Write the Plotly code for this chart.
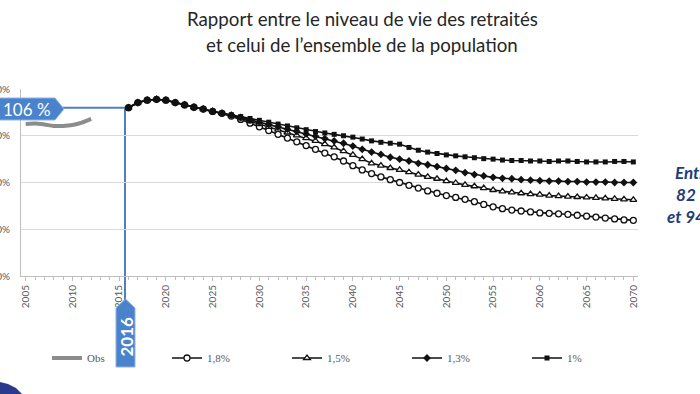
import plotly.graph_objects as go

# ---------------- data ----------------
obs_years = [2005, 2006, 2007, 2008, 2009, 2010, 2011, 2012]
obs_values = [102.5, 102.6, 102.4, 102.1, 102.1, 102.3, 102.8, 103.6]

proj_years = list(range(2016, 2071))

common_start = [106.0, 107.1, 107.6, 107.8, 107.6, 107.1, 106.6, 106.1, 105.7, 105.2, 104.8]

s18_tail = [104.2, 103.5, 102.7, 101.9, 101.1, 100.3, 99.5, 98.7, 97.9, 97.1,
            96.3, 95.5, 94.6, 93.6, 92.7, 91.9, 91.2, 90.6, 90.0, 89.4,
            88.8, 88.2, 87.7, 87.2, 86.8, 86.4, 85.9, 85.3, 84.8, 84.4,
            84.1, 83.9, 83.7, 83.5, 83.4, 83.3, 83.2, 83.0, 82.8, 82.6,
            82.4, 82.2, 82.0, 81.9]
s15_tail = [104.3, 103.7, 103.1, 102.5, 101.9, 101.3, 100.7, 100.1, 99.5, 98.9,
            98.2, 97.5, 96.7, 95.9, 95.0, 94.1, 93.6, 93.1, 92.7, 92.2,
            91.7, 91.2, 90.8, 90.3, 89.9, 89.5, 89.2, 88.8, 88.4, 88.1,
            87.9, 87.7, 87.5, 87.4, 87.2, 87.1, 87.0, 86.9, 86.8, 86.7,
            86.6, 86.5, 86.4, 86.3]
s13_tail = [104.4, 103.9, 103.4, 102.9, 102.4, 101.9, 101.4, 100.9, 100.4, 99.9,
            99.4, 98.9, 98.4, 97.8, 97.1, 96.5, 96.0, 95.4, 95.0, 94.6,
            94.1, 93.8, 93.4, 93.0, 92.6, 92.1, 91.7, 91.4, 91.1, 90.9,
            90.8, 90.6, 90.5, 90.4, 90.3, 90.3, 90.2, 90.2, 90.1, 90.1,
            90.1, 90.0, 90.0, 90.0]
s10_tail = [104.5, 104.1, 103.7, 103.3, 102.9, 102.5, 102.1, 101.7, 101.3, 100.9,
            100.6, 100.3, 100.0, 99.7, 99.3, 98.9, 98.6, 98.4, 98.2, 97.5,
            96.9, 96.5, 96.2, 95.9, 95.7, 95.5, 95.3, 95.1, 95.0, 94.8,
            94.7, 94.7, 94.6, 94.6, 94.5, 94.6, 94.6, 94.5, 94.4, 94.4,
            94.4, 94.5, 94.5, 94.4]

s18 = common_start + s18_tail
s15 = common_start + s15_tail
s13 = common_start + s13_tail
s10 = common_start + s10_tail

series_names = ["Obs", "1,8%", "1,5%", "1,3%", "1%"]
x_tick_years = list(range(2005, 2071, 5))
y_ticks = [70, 80, 90, 100, 110]
y_tick_labels = ["70%", "80%", "90%", "100%", "110%"]

highlight_value = 106

# ---------------- layout helpers ----------------
W, H = 700, 394
ML, MR, MT, MB = 21, 62, 89, 118
PW, PH = W - ML - MR, H - MT - MB


def P(x, y):
    """pixel -> paper coords"""
    return (x - ML) / PW, (H - MB - y) / PH


def path(points):
    s = ""
    for i, (x, y) in enumerate(points):
        px_, py_ = P(x, y)
        s += ("M" if i == 0 else "L") + f"{px_:.5f},{py_:.5f} "
    return s + "Z"


fig = go.Figure()

fig.add_trace(go.Scatter(x=obs_years, y=obs_values, name=series_names[0], mode="lines",
                         line=dict(color="#8c8c8c", width=4, shape="spline")))
fig.add_trace(go.Scatter(x=proj_years, y=s18, name=series_names[1], mode="lines+markers",
                         line=dict(color="#111111", width=1.6),
                         marker=dict(symbol="circle", size=6, color="white",
                                     line=dict(color="#111111", width=1.3))))
fig.add_trace(go.Scatter(x=proj_years, y=s15, name=series_names[2], mode="lines+markers",
                         line=dict(color="#111111", width=1.6),
                         marker=dict(symbol="triangle-up", size=6, color="white",
                                     line=dict(color="#111111", width=1.3))))
fig.add_trace(go.Scatter(x=proj_years, y=s13, name=series_names[3], mode="lines+markers",
                         line=dict(color="#111111", width=1.6),
                         marker=dict(symbol="diamond", size=6, color="#111111")))
fig.add_trace(go.Scatter(x=proj_years, y=s10, name=series_names[4], mode="lines+markers",
                         line=dict(color="#111111", width=1.6),
                         marker=dict(symbol="square", size=5, color="#111111")))

blue = "#4a82cc"
line_blue = "#4f7fbf"

shapes = []
shapes.append(dict(type="line", xref="paper", yref="y",
                   x0=P(62, 0)[0], x1=P(125, 0)[0], y0=highlight_value, y1=highlight_value,
                   line=dict(color=line_blue, width=2), layer="below"))
shapes.append(dict(type="line", xref="paper", yref="paper",
                   x0=P(125, 0)[0], x1=P(125, 0)[0], y0=P(0, 109)[1], y1=P(0, 305)[1],
                   line=dict(color=line_blue, width=2), layer="below"))
shapes.append(dict(type="path", xref="paper", yref="paper",
                   path=path([(-3, 98), (55, 98), (64, 109), (55, 120), (-3, 120)]),
                   fillcolor=blue, line=dict(color="#8db3e6", width=1), layer="above"))
shapes.append(dict(type="path", xref="paper", yref="paper",
                   path=path([(116, 308), (125.5, 299), (135, 308), (135, 367), (116, 367)]),
                   fillcolor=blue, line=dict(color="#8db3e6", width=1), layer="above"))
shapes.append(dict(type="path", xref="paper", yref="paper",
                   path=path([(0, 382), (8, 384), (16, 388), (22, 394), (0, 394)]),
                   fillcolor="#2c3a8c", line=dict(width=0), layer="above"))

annotations = [
    dict(text="Rapport entre le niveau de vie des retraités", xref="paper", yref="paper",
         x=P(362, 0)[0], y=P(0, 19)[1], showarrow=False, xanchor="center", yanchor="middle",
         font=dict(family="Lato", size=18.7, color="#262626")),
    dict(text="et celui de l’ensemble de la population", xref="paper", yref="paper",
         x=P(362, 0)[0], y=P(0, 45)[1], showarrow=False, xanchor="center", yanchor="middle",
         font=dict(family="Lato", size=18.7, color="#262626")),
    dict(text="106 %", xref="paper", yref="paper", x=P(27, 0)[0], y=P(0, 109)[1],
         showarrow=False, xanchor="center", yanchor="middle",
         font=dict(family="Lato", size=17, color="white")),
    dict(text="<b>2016</b>", xref="paper", yref="paper", x=P(125.5, 0)[0], y=P(0, 337)[1],
         showarrow=False, xanchor="center", yanchor="middle", textangle=-90,
         font=dict(family="Lato", size=17, color="white")),
    dict(text="<b><i>Entre<br>82 %<br>et 94 %</i></b>", xref="paper", yref="paper",
         x=P(694, 0)[0], y=P(0, 194)[1], showarrow=False, xanchor="center", yanchor="middle",
         align="center", font=dict(family="Lato", size=17, color="#1f3d7a")),
]

fig.update_layout(
    width=W, height=H,
    margin=dict(l=ML, r=MR, t=MT, b=MB, autoexpand=False),
    paper_bgcolor="white", plot_bgcolor="white",
    showlegend=True,
    legend=dict(orientation="h", xref="container", yref="container",
                x=47 / W, y=1 - 358 / H, xanchor="left", yanchor="middle",
                entrywidth=75, entrywidthmode="pixels", itemwidth=30,
                font=dict(family="Liberation Serif", size=11, color="#595959"),
                bgcolor="rgba(0,0,0,0)"),
    xaxis=dict(range=[2004.5, 2070.5], tickvals=x_tick_years, tickangle=-90,
               tickfont=dict(family="Lato", size=10, color="#595959"),
               showgrid=False, zeroline=False, showline=True, linecolor="#bfbfbf",
               ticks="outside", ticklen=4, tickcolor="#bfbfbf",
               minor=dict(dtick=1, ticks="outside", ticklen=3, tickcolor="#bfbfbf"),
               automargin=False),
    yaxis=dict(range=[70, 110], tickvals=y_ticks, ticktext=y_tick_labels,
               tickfont=dict(family="Lato", size=10, color="#595959"),
               showgrid=True, gridcolor="#d9d9d9", gridwidth=1, zeroline=False,
               showline=True, linecolor="#bfbfbf", ticks="", ticklabelstandoff=8,
               automargin=False),
    shapes=shapes,
    annotations=annotations,
)

fig.write_html("out.html", config={"displayModeBar": False},
               post_script="document.body.style.margin='0';")
